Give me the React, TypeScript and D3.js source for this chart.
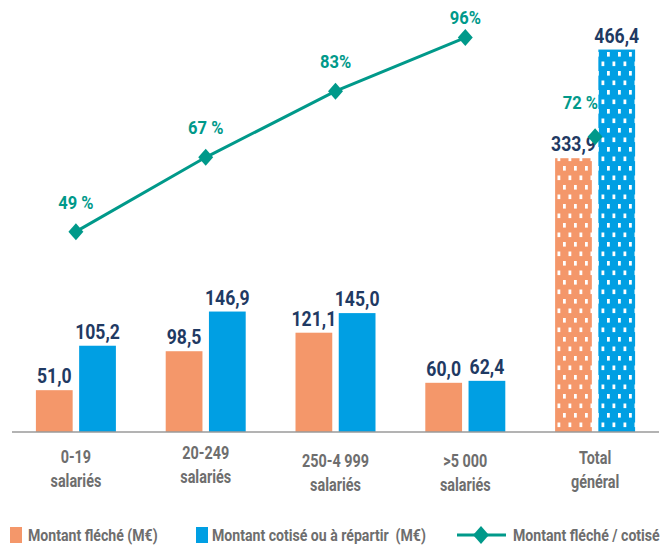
import React from 'react';
import * as d3 from 'd3';

// categories (two lines each)
const categories = ['0-19', '20-249', '250-4 999', '>5 000', 'Total'];
const categorySub = ['salariés', 'salariés', 'salariés', 'salariés', 'général'];
const flecheValues = [51.0, 98.5, 121.1, 60.0, 333.9];
const cotiseValues = [105.2, 146.9, 145.0, 62.4, 466.4];
const ratioValues = [49, 67, 83, 96, 72];
const ratioLabels = ['49 %', '67 %', '83%', '96%', '72 %'];
const legendLabels = ['Montant fléché (M€)', 'Montant cotisé ou à répartir  (M€)', 'Montant fléché / cotisé'];

const W = 669;
const H = 549;
const baseY = 432;
const FONT = 'Roboto, "Liberation Sans", sans-serif';
const ORANGE = '#f4976a';
const BLUE = '#009fe3';
const TEAL = '#00998a';
const NAVY = '#1f3a63';
const GREY = '#6e6e6e';
// small vertical nudges of the category labels, as in the source
const labelShift = [0, -4, 4, 4, 1];

const fmt = (v: number) => d3.format('.1f')(v).replace('.', ',');

// condensed-looking text: squeeze Roboto horizontally
const Txt = ({ x, y, sx, anchor = 'middle', size, fill, children }: any) => (
  <text
    transform={`translate(${x},${y}) scale(${sx},1)`}
    textAnchor={anchor}
    fontSize={size}
    fontWeight="bold"
    fill={fill}
    style={{ whiteSpace: 'pre' }}
  >
    {children}
  </text>
);

const App = () => {
  const x = d3.scaleBand<string>().domain(categories).range([11, 660]);
  const sub = d3.scaleBand<string>().domain(['f', 'c']).range([-40, 40]).paddingInner(0.15);
  const y = d3.scaleLinear().domain([0, 500]).range([baseY, 22]);
  const yp = d3.scaleLinear().domain([0, 100]).range([434, 21]);
  const cx = (c: string) => (x(c) as number) + x.bandwidth() / 2;

  const lineCats = categories.slice(0, 4);
  const line = d3
    .line<number>()
    .x((d, i) => cx(lineCats[i]))
    .y((d) => yp(d));

  const diamond = (px: number, py: number, r = 8.5) => {
    const p = d3.path();
    p.moveTo(px, py - r);
    p.lineTo(px + r * 0.88, py);
    p.lineTo(px, py + r);
    p.lineTo(px - r * 0.88, py);
    p.closePath();
    return p.toString();
  };

  const isTotal = (i: number) => i === categories.length - 1;

  return (
    <svg width={W} height={H} style={{ position: 'absolute', left: 0, top: 0 }} fontFamily={FONT}>
      <defs>
        {[
          ['patF', ORANGE],
          ['patC', BLUE],
        ].map(([id, col]) => (
          <pattern key={id} id={id} patternUnits="userSpaceOnUse" width={11} height={19} x={0} y={50}>
            <rect width={11} height={19} fill={col} />
            <rect x={2} y={2} width={2.8} height={4.6} fill="#fff" />
            <rect x={7.5} y={11.5} width={2.8} height={4.6} fill="#fff" />
          </pattern>
        ))}
      </defs>

      {/* bars */}
      {categories.map((c, i) => {
        const fx = cx(c) + (sub('f') as number);
        const bx = cx(c) + (sub('c') as number);
        const bw = sub.bandwidth();
        return (
          <g key={c}>
            <rect
              x={fx}
              y={y(flecheValues[i])}
              width={bw}
              height={baseY - y(flecheValues[i])}
              fill={isTotal(i) ? 'url(#patF)' : ORANGE}
            />
            <rect
              x={bx}
              y={y(cotiseValues[i])}
              width={bw}
              height={baseY - y(cotiseValues[i])}
              fill={isTotal(i) ? 'url(#patC)' : BLUE}
            />
            <Txt x={fx + bw / 2} y={y(flecheValues[i]) - 7} sx={0.84} size={21} fill={NAVY}>
              {fmt(flecheValues[i])}
            </Txt>
            <Txt x={bx + bw / 2} y={y(cotiseValues[i]) - 7} sx={0.84} size={21} fill={NAVY}>
              {fmt(cotiseValues[i])}
            </Txt>
            <Txt x={cx(c)} y={463 + labelShift[i]} sx={0.8} size={18} fill={GREY}>
              {c}
            </Txt>
            <Txt x={cx(c)} y={487 + labelShift[i]} sx={0.8} size={18} fill={GREY}>
              {categorySub[i]}
            </Txt>
          </g>
        );
      })}

      {/* axis */}
      <line x1={12} x2={659} y1={baseY} y2={baseY} stroke="#9a9a9a" strokeWidth={1.5} />

      {/* ratio line */}
      <path d={line(ratioValues.slice(0, 4)) as string} fill="none" stroke={TEAL} strokeWidth={3} />
      {ratioValues.map((v, i) => {
        const px = cx(categories[i]);
        const py = yp(v);
        return (
          <g key={'r' + i}>
            <path d={diamond(px, py)} fill={TEAL} />
            <Txt
              x={isTotal(i) ? px + 3 : px}
              y={isTotal(i) ? py - 28 : Math.max(py - 23, 24)}
              anchor={isTotal(i) ? 'end' : 'middle'}
              sx={0.92}
              size={18}
              fill={TEAL}
            >
              {ratioLabels[i]}
            </Txt>
          </g>
        );
      })}

      {/* legend */}
      <rect x={10} y={527} width={12} height={16} fill={ORANGE} />
      <Txt x={28} y={541} anchor="start" sx={0.83} size={17} fill={GREY}>
        {legendLabels[0]}
      </Txt>
      <rect x={196} y={527} width={12} height={16} fill={BLUE} />
      <Txt x={212} y={541} anchor="start" sx={0.83} size={17} fill={GREY}>
        {legendLabels[1]}
      </Txt>
      <line x1={457} x2={506} y1={535} y2={535} stroke={TEAL} strokeWidth={3} />
      <path d={diamond(481, 535, 9)} fill={TEAL} />
      <Txt x={513} y={541} anchor="start" sx={0.83} size={17} fill={GREY}>
        {legendLabels[2]}
      </Txt>
    </svg>
  );
};

export default App;
